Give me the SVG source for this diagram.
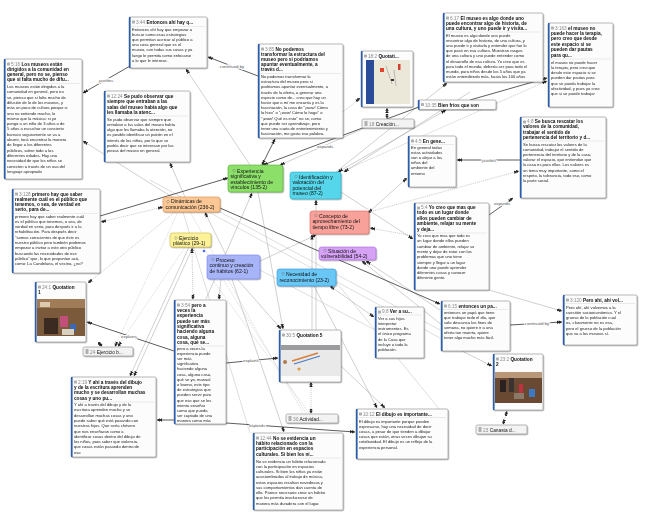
<svg xmlns="http://www.w3.org/2000/svg" width="655" height="514" viewBox="0 0 655 514">
<defs>
<style>
.box{fill:#fcfcfc;stroke:#8c8c8c;stroke-width:0.6}
.bar{fill:#2a5db0}
.ic{fill:#b0b0b0}
.sep{stroke:#d0d0d0;stroke-width:0.4}
.hd{font-family:"Liberation Sans",Arial,sans-serif;font-size:4.7px;font-weight:bold;fill:#111}
.qid{font-weight:normal;fill:#8a8a8a}
.bd{font-family:"Liberation Sans",Arial,sans-serif;font-size:4.1px;fill:#222}
.ct{font-family:"Liberation Sans",Arial,sans-serif;font-size:5.1px;fill:#111}
.dm{fill:none;stroke:#777;stroke-width:0.5}
.doc{fill:#f3f3f3;stroke:#8c8c8c;stroke-width:0.6}
.dt{font-family:"Liberation Sans",Arial,sans-serif;font-size:4.8px;fill:#111}
.l{fill:none;stroke:#a0a0a0;stroke-width:0.5}
.lt{fill:none;stroke:#bdbdbd;stroke-width:0.5}
.d{fill:none;stroke:#333;stroke-width:0.8}
.dot{stroke-dasharray:1.2 0.8}
.lb{font-family:"Liberation Sans",Arial,sans-serif;font-size:4.3px;fill:#555;stroke:#fff;stroke-width:1.6;paint-order:stroke;text-anchor:middle}
</style>
<filter id="sh" x="-10%" y="-10%" width="130%" height="130%">
<feDropShadow dx="0.8" dy="0.9" stdDeviation="0.7" flood-color="#000" flood-opacity="0.35"/>
</filter>
<marker id="ar" viewBox="0 0 7 5" refX="7" refY="2.5" markerWidth="5" markerHeight="3.6" markerUnits="userSpaceOnUse" orient="auto-start-reverse">
<path d="M0,0 L4,2.5 L0,5 z M3,0 L7,2.5 L3,5 z" fill="#222"/>
</marker>
</defs>
<rect width="655" height="514" fill="#ffffff"/>

<g id="connectors">
<!-- grey links -->
<path class="l" d="M250,165 L186,69" marker-end="url(#ar)"/>
<path class="l" d="M185,197 L170,163" marker-end="url(#ar)"/>
<path class="l" d="M172,197 L83,141" marker-end="url(#ar)"/>
<path class="l dot" d="M163,207 L101,222" marker-start="url(#ar)" marker-end="url(#ar)"/>
<path class="l dot" d="M175,212 L88,283" marker-end="url(#ar)"/>
<path class="l" d="M367,127 L280,165" marker-end="url(#ar)"/>
<path class="l dot" d="M343,112 L360,98" marker-end="url(#ar)"/>
<path class="l dot" d="M387,108 L387,118.5" marker-start="url(#ar)" marker-end="url(#ar)"/>
<path class="l" d="M336,172 L447,83" marker-end="url(#ar)"/>
<path class="l dot" d="M341,172 L547,81" marker-end="url(#ar)"/>
<path class="l" d="M446,110 L338,172" marker-start="url(#ar)" marker-end="url(#ar)"/>
<path class="l" d="M470,92 L344,172" marker-end="url(#ar)"/>
<path class="l dot" d="M369,212 L519,171" marker-end="url(#ar)"/>
<path class="l" d="M368,213 L407,178" marker-start="url(#ar)" marker-end="url(#ar)"/>
<path class="l dot" d="M414,236 L370,228" marker-end="url(#ar)"/>
<path class="l" d="M341,192 L413,239" marker-end="url(#ar)"/>
<path class="l" d="M489,290 L562,311" marker-end="url(#ar)"/>
<path class="l dot" d="M507,411 L503,424.5" marker-start="url(#ar)" marker-end="url(#ar)"/>
<path class="l" d="M440,310 L366,261" marker-end="url(#ar)"/>
<path class="l" d="M448,330 L362,261" marker-end="url(#ar)"/>
<path class="l" d="M330,286 L374,317" marker-start="url(#ar)" marker-end="url(#ar)"/>
<path class="l" d="M189,247 L130,376" marker-end="url(#ar)"/>
<path class="l" d="M193,247 L134,376" marker-end="url(#ar)"/>
<path class="l dot" d="M192,248 L193,299.5" marker-start="url(#ar)" marker-end="url(#ar)"/>
<path class="l" d="M221,279 L219,299.5" marker-end="url(#ar)"/>
<path class="l" d="M232,279 L284,432" marker-end="url(#ar)"/>
<path class="l" d="M314,286 L377,408" marker-end="url(#ar)"/>
<path class="l" d="M341,366 L385,408" marker-end="url(#ar)"/>
<path class="l dot" d="M311,382 L311,413.5" marker-start="url(#ar)" marker-end="url(#ar)"/>
<path class="lt dot" d="M203,247 L306,413"/>
<path class="lt dot" d="M212,279 L309,413"/>
<path class="lt dot" d="M190,212 L303,413"/>
<path class="l" d="M316,330 L316,200" marker-end="url(#ar)"/>
<path class="l" d="M312,330 L312,234.5" marker-end="url(#ar)"/>
<path class="l" d="M206,299 L252,193" marker-end="url(#ar)"/>
<path class="l" d="M258,192 L283,329" marker-end="url(#ar)"/>
<path class="l" d="M258,262 L316,235" marker-end="url(#ar)"/>
<path class="l" d="M238,280 L281,329" marker-end="url(#ar)"/>
<path class="l dot" d="M98,342 L102,346.5" marker-start="url(#ar)" marker-end="url(#ar)"/>
<path class="l" d="M226,255 L205,212.5" marker-end="url(#ar)"/>
<path class="lt dot" d="M178,212 L115,346.5" marker-end="url(#ar)"/>
<path class="lt dot" d="M185,247 L118,346.5" marker-end="url(#ar)"/>
<path class="lt" d="M220,212 L440,330"/>
<path class="lt" d="M150,180 L440,338"/>
<path class="lt" d="M260,270 L375,330"/>
<path class="lt" d="M336,282 L448,420"/>
<path class="lt" d="M183,212 L250,433"/>
<path class="l" d="M462,351 L492,366" marker-end="url(#ar)"/>
<!-- dark links -->
<path class="d" d="M130,66 L83,93" marker-end="url(#ar)"/>
<path class="d" d="M258,76 L208,57" marker-end="url(#ar)"/>
<path class="d" d="M100,216 L228,178" marker-end="url(#ar)"/>
<path class="d" d="M419,107 L263,165" marker-end="url(#ar)"/>
<path class="d" d="M470,100 L547,78" marker-end="url(#ar)"/>
<path class="d" d="M220,208 L440,304" marker-end="url(#ar)"/>
<path class="d" d="M510,325 L562,322" marker-end="url(#ar)"/>
<path class="d" d="M174,351 L87,322" marker-end="url(#ar)"/>
<path class="d" d="M226,423 L355,432" marker-end="url(#ar)"/>
<path class="d" d="M226,363 L278,358" marker-end="url(#ar)"/>
<path class="d" d="M174,420 L157,420" marker-end="url(#ar)"/>
<path class="d" d="M520,160 L457,160" marker-end="url(#ar)"/>
<path class="d" d="M489,215 L513,198" marker-end="url(#ar)"/>
<path class="d" d="M275,139 L262,165" marker-start="url(#ar)" marker-end="url(#ar)"/>
<circle cx="204" cy="251" r="1.3" fill="#4a6cf0"/>
<!-- labels -->
<text class="lb" x="106" y="82">justifies</text>
<text class="lb" x="232" y="67.5">continued by</text>
<text class="lb" x="325" y="147.5">expands</text>
<text class="lb" x="489" y="161.5">justifies</text>
<text class="lb" x="502" y="205">expands</text>
<text class="lb" x="537" y="325">continued by</text>
<text class="lb" x="129" y="337.5">explains</text>
<text class="lb" x="251" y="361.5">explains</text>
<text class="lb" x="257" y="427">expands</text>
</g>

<!-- code nodes -->
<g id="code-dinamicas" filter="url(#sh)">
<rect x="163" y="197" width="57" height="15" rx="2.5" fill="#fbc795" stroke="#d98a45" stroke-width="0.6"/>
<polygon class="dm" points="168,200 169.6,201.6 168,203.2 166.4,201.6"/>
<text class="ct"><tspan x="171" y="203.2">Dinámicas de</tspan><tspan x="165.5" y="209.4">comunicación (236-2)</tspan></text>
</g>
<g id="code-ejercicio" filter="url(#sh)">
<rect x="170" y="233" width="41" height="14" rx="2.5" fill="#fdf29a" stroke="#c9b53a" stroke-width="0.6"/>
<polygon class="dm" points="176,236.5 177.6,238.1 176,239.7 174.4,238.1"/>
<text class="ct"><tspan x="179" y="239.5">Ejercicio</tspan><tspan x="173" y="245.2">plástico (29-1)</tspan></text>
</g>
<g id="code-proceso" filter="url(#sh)">
<rect x="207" y="255" width="53" height="24" rx="2.5" fill="#a8b4f8" stroke="#6f82ea" stroke-width="0.6"/>
<polygon class="dm" points="213,258 214.6,259.6 213,261.2 211.4,259.6"/>
<text class="ct"><tspan x="216" y="261.5">Proceso</tspan><tspan x="209.5" y="267">continuo y creación</tspan><tspan x="209.5" y="272.5">de hábitos (62-1)</tspan></text>
</g>
<g id="code-experiencia" filter="url(#sh)">
<rect x="228" y="165" width="55" height="27" rx="2.5" fill="#8ce06a" stroke="#55ad38" stroke-width="0.6"/>
<polygon class="dm" points="234,169 235.6,170.6 234,172.2 232.4,170.6"/>
<text class="ct"><tspan x="237" y="172.5">Experiencia</tspan><tspan x="230.5" y="178">significativa y</tspan><tspan x="230.5" y="183.5">establecimiento de</tspan><tspan x="230.5" y="189">vínculos (135-2)</tspan></text>
</g>
<g id="code-identificacion" filter="url(#sh)">
<rect x="290" y="172" width="51" height="27" rx="2.5" fill="#55d6ea" stroke="#2aa7c2" stroke-width="0.6"/>
<polygon class="dm" points="296,175 297.6,176.6 296,178.2 294.4,176.6"/>
<text class="ct"><tspan x="299" y="178.5">Identificación y</tspan><tspan x="292.5" y="184">valoración del</tspan><tspan x="292.5" y="189.5">potencial del</tspan><tspan x="292.5" y="195">museo (87-2)</tspan></text>
</g>
<g id="code-concepto" filter="url(#sh)">
<rect x="310" y="211" width="59" height="23" rx="2.5" fill="#f8a19a" stroke="#d8665e" stroke-width="0.6"/>
<polygon class="dm" points="316,214 317.6,215.6 316,217.2 314.4,215.6"/>
<text class="ct"><tspan x="319" y="217.5">Concepto de</tspan><tspan x="312.5" y="223">aprovechamiento del</tspan><tspan x="312.5" y="228.5">tiempo libre (73-2)</tspan></text>
</g>
<g id="code-situacion" filter="url(#sh)">
<rect x="319" y="247" width="57" height="13" rx="2.5" fill="#d6a2f5" stroke="#a86ad8" stroke-width="0.6"/>
<polygon class="dm" points="325,249 326.6,250.6 325,252.2 323.4,250.6"/>
<text class="ct"><tspan x="328" y="252.5">Situación de</tspan><tspan x="321" y="258.3">vulnerabilidad (54-2)</tspan></text>
</g>
<g id="code-necesidad" filter="url(#sh)">
<rect x="277" y="269" width="59" height="17" rx="2.5" fill="#6ac6f4" stroke="#3496d6" stroke-width="0.6"/>
<polygon class="dm" points="283,272 284.6,273.6 283,275.2 281.4,273.6"/>
<text class="ct"><tspan x="286" y="276">Necesidad de</tspan><tspan x="279.5" y="282">reconocimiento (23-2)</tspan></text>
</g>

<!-- quotation nodes -->
<g id="q-3-44" filter="url(#sh)">
<rect class="box" x="129" y="17" width="78" height="51" rx="1.5"/>
<rect class="bar" x="129" y="17" width="1.6" height="51"/>
<rect class="ic" x="132" y="20.5" width="3" height="3" rx="0.6"/>
<text class="hd" x="136" y="24"><tspan class="qid">3:44</tspan> Entonces ahí hay q...</text>
<line class="sep" x1="131" y1="26.5" x2="205" y2="26.5"/>
<text class="bd"><tspan x="132" y="30.5">Entonces ahí hay que empezar a</tspan><tspan x="132" dy="5.2">buscar como esas estrategias</tspan><tspan x="132" dy="5.2">que permitan acercar al público a</tspan><tspan x="132" dy="5.2">una cosa general que es el</tspan><tspan x="132" dy="5.2">museo, con todas sus cosas y ya</tspan><tspan x="132" dy="5.2">luego le permita como enfocarse</tspan><tspan x="132" dy="5.2">a lo que le interese.</tspan></text>
</g>

<g id="q-5-16" filter="url(#sh)">
<rect class="box" x="4" y="59" width="78" height="120" rx="1.5"/>
<rect class="bar" x="4" y="59" width="1.6" height="120"/>
<rect class="ic" x="7" y="62.5" width="3" height="3" rx="0.6"/>
<text class="hd"><tspan x="11" y="66"><tspan class="qid">5:16</tspan> Los museos están</tspan><tspan x="7" dy="5">dirigidos a la comunidad en</tspan><tspan x="7" dy="5">general, pero no se, pienso</tspan><tspan x="7" dy="5">que si falta mucho de difu...</tspan></text>
<line class="sep" x1="6" y1="83.5" x2="80" y2="83.5"/>
<text class="bd"><tspan x="7" y="88">Los museos están dirigidos a la</tspan><tspan x="7" dy="5.3">comunidad en general, pero no</tspan><tspan x="7" dy="5.3">se, pienso que si falta mucho de</tspan><tspan x="7" dy="5.3">difusión de lo de los museos, y</tspan><tspan x="7" dy="5.3">más un poco de cultura porque si</tspan><tspan x="7" dy="5.3">uno no entiende mucho, lo</tspan><tspan x="7" dy="5.3">mismo que la música: si yo</tspan><tspan x="7" dy="5.3">pongo a un niño de 3 años o de</tspan><tspan x="7" dy="5.3">5 años a escuchar un concierto</tspan><tspan x="7" dy="5.3">barroco seguramente se va a</tspan><tspan x="7" dy="5.3">aburrir, tocá encontrar la manera</tspan><tspan x="7" dy="5.3">de llegar a los diferentes</tspan><tspan x="7" dy="5.3">públicos, sobre todo a las</tspan><tspan x="7" dy="5.3">diferentes edades. Hay una</tspan><tspan x="7" dy="5.3">necesidad de que los niños se</tspan><tspan x="7" dy="5.3">conecten a través de un uso del</tspan><tspan x="7" dy="5.3">lenguaje apropiado</tspan></text>
</g>

<g id="q-12-24" filter="url(#sh)">
<rect class="box" x="104" y="91" width="86" height="71" rx="1.5"/>
<rect class="bar" x="104" y="91" width="1.6" height="71"/>
<rect class="ic" x="107" y="94.5" width="3" height="3" rx="0.6"/>
<text class="hd"><tspan x="111" y="98"><tspan class="qid">12:24</tspan> Se pudo observar que</tspan><tspan x="107" dy="5.3">siempre que entraban a las</tspan><tspan x="107" dy="5.3">salas del museo había algo que</tspan><tspan x="107" dy="5.3">les llamaba la atenc...</tspan></text>
<line class="sep" x1="106" y1="116" x2="188" y2="116"/>
<text class="bd"><tspan x="107" y="120.5">Se pudo observar que siempre que</tspan><tspan x="107" dy="5.3">entraban a las salas del museo había</tspan><tspan x="107" dy="5.3">algo que les llamaba la atención, no</tspan><tspan x="107" dy="5.3">es posible identificar un patrón en el</tspan><tspan x="107" dy="5.3">interés de los niños, por lo que se</tspan><tspan x="107" dy="5.3">podría decir que se interesan por las</tspan><tspan x="107" dy="5.3">piezas del museo en general.</tspan></text>
</g>

<g id="q-3-85" filter="url(#sh)">
<rect class="box" x="258" y="44" width="85" height="94" rx="1.5"/>
<rect class="bar" x="258" y="44" width="1.6" height="94"/>
<rect class="ic" x="261" y="47.5" width="3" height="3" rx="0.6"/>
<text class="hd"><tspan x="265" y="51"><tspan class="qid">3:85</tspan> No podemos</tspan><tspan x="261" dy="5.1">transformar la estructura del</tspan><tspan x="261" dy="5.1">museo pero si podríamos</tspan><tspan x="261" dy="5.1">apuntar eventualmente, a</tspan><tspan x="261" dy="5.1">través d...</tspan></text>
<line class="sep" x1="260" y1="73.5" x2="341" y2="73.5"/>
<text class="bd"><tspan x="261" y="78">No podemos transformar la</tspan><tspan x="261" dy="5.2">estructura del museo pero si</tspan><tspan x="261" dy="5.2">podríamos apuntar eventualmente, a</tspan><tspan x="261" dy="5.2">través de la oferta, a generar una</tspan><tspan x="261" dy="5.2">especie como de... creo que hay un</tspan><tspan x="261" dy="5.2">factor que a mí me encanta y es la</tspan><tspan x="261" dy="5.2">fascinación, la cosa de &quot;¡wow! Cómo</tspan><tspan x="261" dy="5.2">lo hizo&quot; o &quot;¡wow! Cómo lo hago&quot; o</tspan><tspan x="261" dy="5.2">&quot;¡wow! Qué es esto&quot; no se, como</tspan><tspan x="261" dy="5.2">que puede ser aprendizaje, pero</tspan><tspan x="261" dy="5.2">tener una cuota de entretenimiento y</tspan><tspan x="261" dy="5.2">fascinación, me gusta esa palabra.</tspan></text>
</g>

<g id="q-18-2" filter="url(#sh)">
<rect class="box" x="361" y="51" width="52" height="56" rx="1.5"/>
<rect class="bar" x="361" y="51" width="1.6" height="56"/>
<rect class="ic" x="364" y="54.5" width="3" height="3" rx="0.6"/>
<text class="hd" x="368" y="57.5"><tspan class="qid">18:2</tspan> Quotati...</text>
<rect x="366" y="60" width="44" height="44" fill="#ebe8da"/>
<rect x="366" y="60" width="8" height="44" fill="#2c4b98"/>
<rect x="380" y="68" width="4" height="4" fill="#e0452a"/>
<rect x="398" y="64" width="2.5" height="6" fill="#d04030"/>
<path d="M386,66 L392,84 M394,70 L396,86" stroke="#8a8a8a" stroke-width="0.5"/>
<rect x="391" y="79" width="3" height="2" fill="#333"/>
</g>

<g id="doc-18" filter="url(#sh)">
<rect class="doc" x="362" y="119" width="52" height="9" rx="1.5"/>
<rect class="ic" x="364.5" y="121" width="3" height="5"/>
<text class="dt" x="369" y="125.6"><tspan class="qid">18</tspan> Creación...</text>
</g>

<g id="q-10-35" filter="url(#sh)">
<rect class="box" x="418" y="100" width="78" height="9.5" rx="1.5"/>
<rect class="bar" x="418" y="100" width="1.6" height="9.5"/>
<rect class="ic" x="421" y="103" width="3" height="3" rx="0.6"/>
<text class="hd" x="425" y="106.6"><tspan class="qid">10:35</tspan> Bien fríos que son</text>
</g>

<g id="q-6-17" filter="url(#sh)">
<rect class="box" x="443" y="13" width="100" height="69" rx="1.5"/>
<rect class="bar" x="443" y="13" width="1.6" height="69"/>
<rect class="ic" x="446" y="16.5" width="3" height="3" rx="0.6"/>
<text class="hd"><tspan x="450" y="19.5"><tspan class="qid">6:17</tspan> El museo es algo donde uno</tspan><tspan x="446" dy="5.2">puede encontrar algo de historia, de</tspan><tspan x="446" dy="5.2">una cultura, y uno puede ir y visita...</tspan></text>
<line class="sep" x1="445" y1="32" x2="541" y2="32"/>
<text class="bd"><tspan x="446" y="36.5">El museo es algo donde uno puede</tspan><tspan x="446" dy="5.2">encontrar algo de historia, de una cultura, y</tspan><tspan x="446" dy="5.2">uno puede ir y visitarla y entender que fue lo</tspan><tspan x="446" dy="5.2">que pasó en esa cultura. Muestran rasgos</tspan><tspan x="446" dy="5.2">de una cultura y uno puede entender como</tspan><tspan x="446" dy="5.2">el desarrollo de esa cultura. Yo creo que es</tspan><tspan x="446" dy="5.2">para todo el mundo, debería ser para todo el</tspan><tspan x="446" dy="5.2">mundo, para niños desde los 5 años que ya</tspan><tspan x="446" dy="5.2">están entendiendo más, hasta los 100 años</tspan></text>
</g>

<g id="q-3-163" filter="url(#sh)">
<rect class="box" x="548" y="23" width="65" height="84" rx="1.5"/>
<rect class="bar" x="548" y="23" width="1.6" height="84"/>
<rect class="ic" x="551" y="26.5" width="3" height="3" rx="0.6"/>
<text class="hd"><tspan x="555" y="29.5"><tspan class="qid">3:163</tspan> el museo no</tspan><tspan x="551" dy="5.4">puede hacer la terapia,</tspan><tspan x="551" dy="5.4">pero creo que desde</tspan><tspan x="551" dy="5.4">este espacio si se</tspan><tspan x="551" dy="5.4">pueden dar pautas</tspan><tspan x="551" dy="5.4">para qu...</tspan></text>
<line class="sep" x1="550" y1="59" x2="611" y2="59"/>
<text class="bd"><tspan x="551" y="63.5">el museo no puede hacer</tspan><tspan x="551" dy="5.3">la terapia, pero creo que</tspan><tspan x="551" dy="5.3">desde este espacio si se</tspan><tspan x="551" dy="5.3">pueden dar pautas para</tspan><tspan x="551" dy="5.3">que se pueda trabajar la</tspan><tspan x="551" dy="5.3">afectividad, y pues yo creo</tspan><tspan x="551" dy="5.3">que si se puede trabajar</tspan></text>
</g>

<g id="q-4-8" filter="url(#sh)">
<rect class="box" x="520" y="117" width="86" height="81" rx="1.5"/>
<rect class="bar" x="520" y="117" width="1.6" height="81"/>
<rect class="ic" x="523" y="120.5" width="3" height="3" rx="0.6"/>
<text class="hd"><tspan x="527" y="123"><tspan class="qid">4:8</tspan> Se busca rescatar los</tspan><tspan x="523" dy="5.3">valores de la comunidad,</tspan><tspan x="523" dy="5.3">trabajar el sentido de</tspan><tspan x="523" dy="5.3">pertenencia del territorio y d...</tspan></text>
<line class="sep" x1="522" y1="141" x2="604" y2="141"/>
<text class="bd"><tspan x="523" y="145.5">Se busca rescatar los valores de la</tspan><tspan x="523" dy="5.2">comunidad, trabajar el sentido de</tspan><tspan x="523" dy="5.2">pertenencia del territorio y de la casa,</tspan><tspan x="523" dy="5.2">valorar el espacio, que entiendan que</tspan><tspan x="523" dy="5.2">la casa es para ellos. Los valores es</tspan><tspan x="523" dy="5.2">un tema muy importante, como el</tspan><tspan x="523" dy="5.2">respeto, la tolerancia, todo eso, como</tspan><tspan x="523" dy="5.2">la parte social.</tspan></text>
</g>

<g id="q-4-5" filter="url(#sh)">
<rect class="box" x="408" y="136" width="48" height="51" rx="1.5"/>
<rect class="bar" x="408" y="136" width="1.6" height="51"/>
<rect class="ic" x="411" y="139.5" width="3" height="3" rx="0.6"/>
<text class="hd" x="415" y="142.5"><tspan class="qid">4:5</tspan> En gene...</text>
<line class="sep" x1="410" y1="144.5" x2="454" y2="144.5"/>
<text class="bd"><tspan x="411" y="149">En general todas</tspan><tspan x="411" dy="5.1">estas actividades</tspan><tspan x="411" dy="5.1">van a alejar a los</tspan><tspan x="411" dy="5.1">niños del</tspan><tspan x="411" dy="5.1">ambiente del</tspan><tspan x="411" dy="5.1">entorno</tspan></text>
</g>

<g id="q-5-4" filter="url(#sh)">
<rect class="box" x="414" y="203" width="75" height="87" rx="1.5"/>
<rect class="bar" x="414" y="203" width="1.6" height="87"/>
<rect class="ic" x="417" y="206.5" width="3" height="3" rx="0.6"/>
<text class="hd"><tspan x="421" y="209"><tspan class="qid">5:4</tspan> Yo creo que mas que</tspan><tspan x="417" dy="5.4">todo es un lugar donde</tspan><tspan x="417" dy="5.4">ellos pueden cambiar de</tspan><tspan x="417" dy="5.4">ambiente, relajar su mente</tspan><tspan x="417" dy="5.4">y deja...</tspan></text>
<line class="sep" x1="416" y1="233" x2="487" y2="233"/>
<text class="bd"><tspan x="417" y="237">Yo creo que mas que todo es</tspan><tspan x="417" dy="5.3">un lugar donde ellos pueden</tspan><tspan x="417" dy="5.3">cambiar de ambiente, relajar su</tspan><tspan x="417" dy="5.3">mente y dejar de estar con los</tspan><tspan x="417" dy="5.3">problemas que uno tiene</tspan><tspan x="417" dy="5.3">siempre y llegar a un lugar</tspan><tspan x="417" dy="5.3">donde uno puede aprender</tspan><tspan x="417" dy="5.3">diferentes cosas y conocer</tspan><tspan x="417" dy="5.3">diferente gente.</tspan></text>
</g>

<g id="q-6-15" filter="url(#sh)">
<rect class="box" x="441" y="301" width="69" height="50" rx="1.5"/>
<rect class="bar" x="441" y="301" width="1.6" height="50"/>
<rect class="ic" x="444" y="304.5" width="3" height="3" rx="0.6"/>
<text class="hd" x="448" y="307.5"><tspan class="qid">6:15</tspan> entonces un pa...</text>
<line class="sep" x1="443" y1="309.5" x2="508" y2="309.5"/>
<text class="bd"><tspan x="444" y="314">entonces un papá que tiene</tspan><tspan x="444" dy="5">que trabajar todo el día, que</tspan><tspan x="444" dy="5">solo descansa los fines de</tspan><tspan x="444" dy="5">semana, no quiere ir a una</tspan><tspan x="444" dy="5">oferta tan muerta, quiere</tspan><tspan x="444" dy="5">tener algo mucho más fácil.</tspan></text>
</g>

<g id="q-3-120" filter="url(#sh)">
<rect class="box" x="563" y="295" width="74" height="50" rx="1.5"/>
<rect class="bar" x="563" y="295" width="1.6" height="50"/>
<rect class="ic" x="566" y="298.5" width="3" height="3" rx="0.6"/>
<text class="hd" x="570" y="301.5"><tspan class="qid">3:120</tspan> Pero ahí, ahí vol...</text>
<line class="sep" x1="565" y1="303.5" x2="635" y2="303.5"/>
<text class="bd"><tspan x="566" y="308.5">Pero ahí, ahí volvemos a la</tspan><tspan x="566" dy="5.3">cuestión socioeconómica. Y el</tspan><tspan x="566" dy="5.3">grueso de la población cual</tspan><tspan x="566" dy="5.3">es, claramente no es esa,</tspan><tspan x="566" dy="5.3">pero el grueso de la población</tspan><tspan x="566" dy="5.3">que va a los museos sí.</tspan></text>
</g>

<g id="q-23-2" filter="url(#sh)">
<rect class="box" x="493" y="354" width="50" height="56" rx="1.5"/>
<rect class="bar" x="493" y="354" width="1.6" height="56"/>
<rect class="ic" x="496" y="357.5" width="3" height="3" rx="0.6"/>
<text class="hd"><tspan x="500" y="360.5"><tspan class="qid">23:2</tspan> Quotation</tspan><tspan x="496" dy="5">2</tspan></text>
<rect x="495" y="372" width="47" height="31" fill="#6a4a32"/>
<rect x="495" y="372" width="47" height="6" fill="#b89878"/>
<rect x="500" y="380" width="6" height="12" fill="#2a2220"/>
<rect x="509" y="378" width="5" height="14" fill="#3a3030"/>
<rect x="519" y="384" width="4" height="9" fill="#c03040"/>
<rect x="529" y="389" width="6" height="8" fill="#3a7ac8"/>
<rect x="514" y="393" width="10" height="6" fill="#8a7a6a"/>
</g>

<g id="doc-23" filter="url(#sh)">
<rect class="doc" x="476" y="425" width="51" height="9" rx="1.5"/>
<rect class="ic" x="478.5" y="427" width="3" height="5"/>
<text class="dt" x="483" y="431.6"><tspan class="qid">23</tspan> Canasta d...</text>
</g>

<g id="q-10-12" filter="url(#sh)">
<rect class="box" x="356" y="409" width="92" height="50" rx="1.5"/>
<rect class="bar" x="356" y="409" width="1.6" height="50"/>
<rect class="ic" x="359" y="412.5" width="3" height="3" rx="0.6"/>
<text class="hd" x="363" y="415.5"><tspan class="qid">10:12</tspan> El dibujo es importante...</text>
<line class="sep" x1="358" y1="417.5" x2="446" y2="417.5"/>
<text class="bd"><tspan x="359" y="422.5">El dibujo es importante porque pueden</tspan><tspan x="359" dy="5.2">expresarse, hay una necesidad de decir</tspan><tspan x="359" dy="5.2">cosas, a pesar de que tienden a dibujar</tspan><tspan x="359" dy="5.2">cosas que están, otras veces dibujan su</tspan><tspan x="359" dy="5.2">cotidianidad. El dibujo es un reflejo de la</tspan><tspan x="359" dy="5.2">experiencia personal.</tspan></text>
</g>

<g id="q-12-44" filter="url(#sh)">
<rect class="box" x="253" y="433" width="90" height="77" rx="1.5"/>
<rect class="bar" x="253" y="433" width="1.6" height="77"/>
<rect class="ic" x="256" y="436.5" width="3" height="3" rx="0.6"/>
<text class="hd"><tspan x="260" y="439.5"><tspan class="qid">12:44</tspan> No se evidencia un</tspan><tspan x="256" dy="5.4">hábito relacionado con la</tspan><tspan x="256" dy="5.4">participación en espacios</tspan><tspan x="256" dy="5.4">culturales. Si bien los ni...</tspan></text>
<line class="sep" x1="255" y1="458" x2="341" y2="458"/>
<text class="bd"><tspan x="256" y="462.5">No se evidencia un hábito relacionado</tspan><tspan x="256" dy="5.25">con la participación en espacios</tspan><tspan x="256" dy="5.25">culturales. Si bien los niños ya están</tspan><tspan x="256" dy="5.25">acostumbrados al trabajo de música,</tspan><tspan x="256" dy="5.25">estos espacios resultan novedosos y</tspan><tspan x="256" dy="5.25">sus comportamientos dan cuenta de</tspan><tspan x="256" dy="5.25">ello. Parece necesario crear un hábito</tspan><tspan x="256" dy="5.25">que les permita involucrarse de</tspan><tspan x="256" dy="5.25">manera más duradera con el lugar.</tspan></text>
</g>

<g id="doc-30" filter="url(#sh)">
<rect class="doc" x="286" y="414" width="52" height="9" rx="1.5"/>
<rect class="ic" x="288.5" y="416" width="3" height="5"/>
<text class="dt" x="293" y="420.6"><tspan class="qid">30</tspan> Actividad...</text>
</g>

<g id="q-30-5" filter="url(#sh)">
<rect class="box" x="279" y="330" width="62" height="52" rx="1.5"/>
<rect class="bar" x="279" y="330" width="1.6" height="52"/>
<rect class="ic" x="282" y="333.5" width="3" height="3" rx="0.6"/>
<text class="hd" x="286" y="336.5"><tspan class="qid">30:5</tspan> Quotation 5</text>
<rect x="281" y="345" width="59" height="31" fill="#e9e9ea"/>
<rect x="281" y="345" width="59" height="5" fill="#9c9c9e"/>
<path d="M292,361 L318,353" stroke="#d6803a" stroke-width="1.6"/>
<path d="M294,364 L320,356" stroke="#4a7ac0" stroke-width="1.2"/>
<circle cx="299" cy="369" r="1.6" fill="#d8a040"/>
<circle cx="285" cy="362" r="2" fill="#b07a50"/>
</g>

<g id="q-9-8" filter="url(#sh)">
<rect class="box" x="375" y="307" width="49" height="51" rx="1.5"/>
<rect class="bar" x="375" y="307" width="1.6" height="51"/>
<rect class="ic" x="378" y="310.5" width="3" height="3" rx="0.6"/>
<text class="hd" x="382" y="313"><tspan class="qid">9:8</tspan> Ver a su...</text>
<line class="sep" x1="377" y1="315" x2="422" y2="315"/>
<text class="bd"><tspan x="378" y="319.5">Ver a sus hijos</tspan><tspan x="378" dy="5.3">interpretar</tspan><tspan x="378" dy="5.3">instrumentos. Es</tspan><tspan x="378" dy="5.3">el único programa</tspan><tspan x="378" dy="5.3">de la Casa que</tspan><tspan x="378" dy="5.3">incluye a toda la</tspan><tspan x="378" dy="5.3">población.</tspan></text>
</g>

<g id="q-3-54" filter="url(#sh)">
<rect class="box" x="174" y="300" width="52" height="124" rx="1.5"/>
<rect class="bar" x="174" y="300" width="1.6" height="124"/>
<rect class="ic" x="177" y="303.5" width="3" height="3" rx="0.6"/>
<text class="hd"><tspan x="181" y="306.5"><tspan class="qid">3:54</tspan> pero a</tspan><tspan x="177" dy="5.35">veces la</tspan><tspan x="177" dy="5.35">experiencia</tspan><tspan x="177" dy="5.35">puede ser más</tspan><tspan x="177" dy="5.35">significativa</tspan><tspan x="177" dy="5.35">haciendo alguna</tspan><tspan x="177" dy="5.35">cosa, alguna</tspan><tspan x="177" dy="5.35">cosa, qué se...</tspan></text>
<line class="sep" x1="176" y1="346" x2="224" y2="346"/>
<text class="bd"><tspan x="177" y="349.5">pero a veces la</tspan><tspan x="177" dy="5.2">experiencia puede</tspan><tspan x="177" dy="5.2">ser más</tspan><tspan x="177" dy="5.2">significativa</tspan><tspan x="177" dy="5.2">haciendo alguna</tspan><tspan x="177" dy="5.2">cosa, alguna cosa,</tspan><tspan x="177" dy="5.2">qué se yo, manual</tspan><tspan x="177" dy="5.2">o bueno, este tipo</tspan><tspan x="177" dy="5.2">de estrategias que</tspan><tspan x="177" dy="5.2">pueden servir para</tspan><tspan x="177" dy="5.2">que eso que se les</tspan><tspan x="177" dy="5.2">intenta enseñar</tspan><tspan x="177" dy="5.2">como que pueda</tspan><tspan x="177" dy="5.2">ser captado de una</tspan><tspan x="177" dy="5.2">manera como más</tspan></text>
</g>

<g id="q-2-19" filter="url(#sh)">
<rect class="box" x="71" y="377" width="85" height="80" rx="1.5"/>
<rect class="bar" x="71" y="377" width="1.6" height="80"/>
<rect class="ic" x="74" y="380.5" width="3" height="3" rx="0.6"/>
<text class="hd"><tspan x="78" y="383.5"><tspan class="qid">2:19</tspan> Y ahí a través del dibujo</tspan><tspan x="74" dy="5.4">y de la escritura aprenden</tspan><tspan x="74" dy="5.4">mucho y se desarrollan muchas</tspan><tspan x="74" dy="5.4">cosas y uno pu...</tspan></text>
<line class="sep" x1="73" y1="402" x2="154" y2="402"/>
<text class="bd"><tspan x="74" y="406">Y ahí a través del dibujo  y de la</tspan><tspan x="74" dy="5.3">escritura aprenden mucho y se</tspan><tspan x="74" dy="5.3">desarrollan muchas cosas y uno</tspan><tspan x="74" dy="5.3">puede saber qué está pasando con</tspan><tspan x="74" dy="5.3">nuestros hijos. Que sería chévere</tspan><tspan x="74" dy="5.3">que nos enseñaran como a</tspan><tspan x="74" dy="5.3">identificar cosas dentro del dibujo de</tspan><tspan x="74" dy="5.3">los niños, para saber que violencia,</tspan><tspan x="74" dy="5.3">que cosas están pasando dentro de</tspan><tspan x="74" dy="5.3">eso</tspan></text>
</g>

<g id="doc-24" filter="url(#sh)">
<rect class="doc" x="83" y="347" width="50" height="9" rx="1.5"/>
<rect class="ic" x="85.5" y="349" width="3" height="5"/>
<text class="dt" x="90" y="353.6"><tspan class="qid">24</tspan> Ejercicio b...</text>
</g>

<g id="q-24-1" filter="url(#sh)">
<rect class="box" x="35" y="282" width="51" height="60" rx="1.5"/>
<rect class="bar" x="35" y="282" width="1.6" height="60"/>
<rect class="ic" x="38" y="285.5" width="3" height="3" rx="0.6"/>
<text class="hd"><tspan x="42" y="288.5"><tspan class="qid">24:1</tspan> Quotation</tspan><tspan x="38" dy="5">1</tspan></text>
<rect x="37" y="299" width="48" height="37" fill="#7a5a3a"/>
<rect x="37" y="299" width="48" height="9" fill="#a07c58"/>
<rect x="40" y="302" width="10" height="5" fill="#dccbb0"/>
<rect x="44" y="318" width="14" height="16" fill="#3a2a20"/>
<rect x="60" y="316" width="8" height="11" fill="#c0507a"/>
<rect x="70" y="324" width="6" height="7" fill="#3a6ab0"/>
<rect x="62" y="329" width="12" height="6" fill="#d8d0c0"/>
</g>

<g id="q-3-128" filter="url(#sh)">
<rect class="box" x="12" y="189" width="88" height="84" rx="1.5"/>
<rect class="bar" x="12" y="189" width="1.6" height="84"/>
<rect class="ic" x="15" y="192.5" width="3" height="3" rx="0.6"/>
<text class="hd"><tspan x="19" y="195.5"><tspan class="qid">3:128</tspan> primero hay que saber</tspan><tspan x="15" dy="5.3">realmente cuál es el público que</tspan><tspan x="15" dy="5.3">tenemos, o sea, de verdad en</tspan><tspan x="15" dy="5.3">serio, para de...</tspan></text>
<line class="sep" x1="14" y1="213.5" x2="98" y2="213.5"/>
<text class="bd"><tspan x="15" y="217.5">primero hay que saber realmente cuál</tspan><tspan x="15" dy="5.3">es el público que tenemos, o sea, de</tspan><tspan x="15" dy="5.3">verdad en serio, para después ir a la</tspan><tspan x="15" dy="5.3">rehabilitación. Para después decir</tspan><tspan x="15" dy="5.3">&quot;somos conscientes de que éste es</tspan><tspan x="15" dy="5.3">nuestro público pero también podemos</tspan><tspan x="15" dy="5.3">empezar a invitar a este otro público</tspan><tspan x="15" dy="5.3">buscando las necesidades de ese</tspan><tspan x="15" dy="5.3">público&quot; que, lo que proponían acá,</tspan><tspan x="15" dy="5.3">como: La Candelaria, el vecino, ¿no?</tspan></text>
</g>
</svg>
